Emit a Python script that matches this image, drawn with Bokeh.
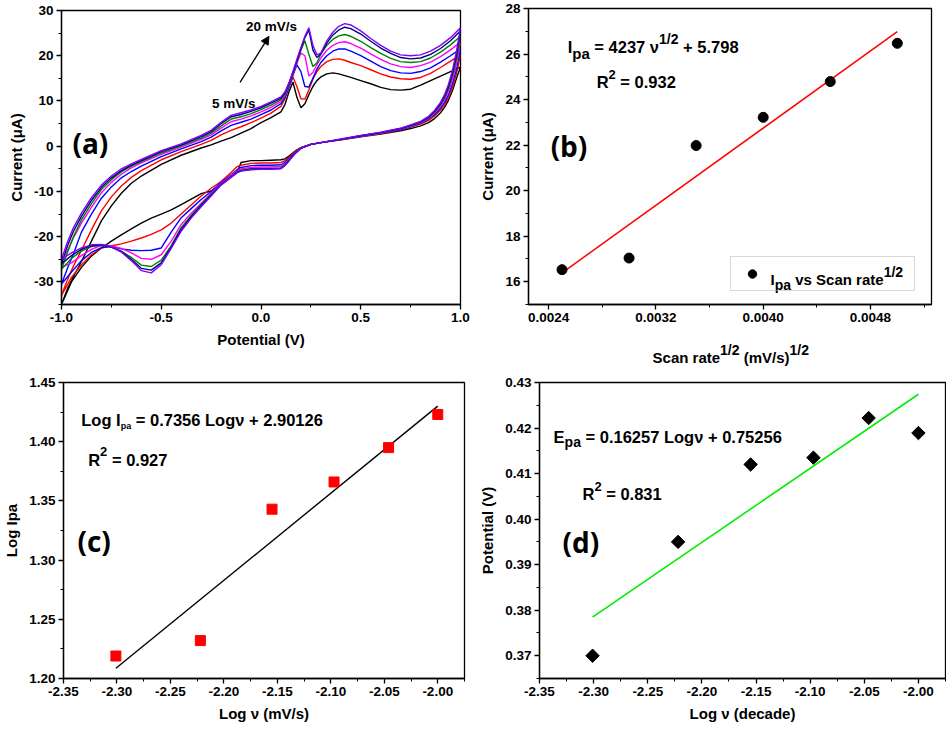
from bokeh.plotting import figure
from bokeh.models import (Range1d, FixedTicker, PrintfTickFormatter, Label, Arrow,
                          NormalHead, Legend, LegendItem)
from bokeh.layouts import column, row
from bokeh.embed import file_html
from bokeh.resources import INLINE

# ---------------- data : panel (a) cyclic voltammograms ----------------
E_UP = [-1.0, -0.97, -0.94, -0.9, -0.85, -0.8, -0.75, -0.7, -0.65, -0.6,
        -0.5, -0.4, -0.3, -0.25, -0.2, -0.15, -0.1, -0.05, 0.0, 0.05,
        0.1, 0.12, 0.14, 0.16, 0.18, 0.2, 0.22, 0.24, 0.26, 0.28,
        0.3, 0.33, 0.36, 0.39, 0.42, 0.45, 0.5, 0.55, 0.6, 0.65,
        0.7, 0.75, 0.8, 0.85, 0.9, 0.95, 1.0]
E_DN = [1.0, 0.98, 0.96, 0.94, 0.92, 0.9, 0.87, 0.84, 0.8, 0.75,
        0.7, 0.6, 0.5, 0.4, 0.3, 0.25, 0.2, 0.17, 0.14, 0.12,
        0.1, 0.05, 0.0, -0.05, -0.1, -0.12, -0.15, -0.2, -0.25, -0.3,
        -0.35, -0.4, -0.45, -0.5, -0.55, -0.6, -0.65, -0.7, -0.75, -0.8,
        -0.85, -0.9, -0.95, -1.0]

BLACK_UP = [-35.0, -31.5, -28.8, -25.5, -21.0, -16.5, -13.2, -10.4, -8.2, -6.6,
            -4.0, -2.0, -0.4, 0.3, 1.1, 1.9, 2.9, 3.9, 5.2, 6.3,
            7.6, 9.2, 12.0, 14.2, 10.8, 8.5, 9.4, 11.4, 13.2, 14.5,
            15.3, 16.0, 16.2, 16.0, 15.6, 15.2, 14.5, 13.8, 13.0, 12.5,
            12.4, 12.6, 13.5, 14.5, 15.5, 16.5, 17.5]
RED_UP = [-33.0, -29.5, -26.5, -23.0, -18.5, -14.3, -11.2, -8.8, -6.9, -5.4,
          -3.0, -1.2, 0.4, 1.3, 2.5, 3.5, 4.3, 5.2, 6.2, 7.3,
          8.8, 10.5, 13.0, 15.3, 13.2, 10.5, 10.4, 12.5, 14.8, 16.5,
          17.6, 18.7, 19.2, 19.3, 19.0, 18.5, 17.8, 16.9, 16.0, 15.3,
          14.9, 14.8, 15.2, 16.1, 17.4, 18.8, 20.2]
BLUE_UP = [-30.5, -27.0, -23.8, -19.0, -15.0, -11.5, -9.0, -7.0, -5.6, -4.4,
           -2.3, -0.6, 1.0, 2.0, 3.4, 4.6, 5.3, 6.0, 7.0, 8.0,
           9.4, 10.8, 13.0, 15.6, 18.0, 16.5, 13.2, 13.1, 15.0, 17.0,
           18.5, 20.0, 21.0, 21.5, 21.5, 21.0, 20.0, 18.8, 17.6, 16.7,
           16.2, 16.1, 16.5, 17.3, 18.6, 20.0, 21.5]
MAGENTA_UP = [-26.8, -23.0, -20.2, -17.0, -13.5, -10.3, -8.0, -6.2, -4.8, -3.7,
              -1.8, -0.2, 1.5, 2.5, 4.0, 5.4, 6.0, 6.7, 7.6, 8.6,
              9.9, 11.2, 13.4, 15.8, 18.3, 20.6, 20.0, 15.5, 16.3, 18.0,
              19.5, 21.2, 22.3, 22.9, 23.1, 22.7, 21.7, 20.4, 19.2, 18.2,
              17.6, 17.4, 17.8, 18.6, 19.8, 21.3, 23.0]
GREEN_UP = [-27.2, -23.5, -20.0, -16.3, -12.7, -9.6, -7.4, -5.7, -4.4, -3.4,
            -1.5, 0.1, 1.8, 2.9, 4.5, 6.0, 6.5, 7.2, 8.1, 9.1,
            10.3, 11.5, 13.6, 16.0, 18.6, 21.2, 23.3, 20.3, 17.6, 18.4,
            20.4, 22.3, 23.6, 24.4, 24.7, 24.3, 23.2, 21.8, 20.5, 19.4,
            18.7, 18.5, 18.7, 19.5, 20.8, 22.4, 24.3]
NAVY_UP = [-26.0, -22.0, -18.8, -15.5, -12.0, -9.1, -7.0, -5.4, -4.2, -3.2,
           -1.2, 0.3, 2.1, 3.2, 5.0, 6.5, 7.0, 7.7, 8.5, 9.5,
           10.6, 11.8, 13.8, 16.3, 18.9, 21.5, 24.0, 25.7, 21.3, 19.6,
           20.4, 22.8, 24.6, 25.7, 26.3, 26.0, 24.8, 23.2, 21.7, 20.5,
           19.6, 19.3, 19.5, 20.3, 21.6, 23.3, 25.5]
VIOLET_UP = [-25.0, -21.2, -18.0, -14.8, -11.4, -8.6, -6.6, -5.0, -3.9, -2.9,
             -1.0, 0.5, 2.4, 3.5, 5.3, 6.8, 7.4, 8.0, 8.8, 9.8,
             10.9, 12.0, 14.0, 16.5, 19.2, 21.8, 24.3, 26.2, 22.3, 20.2,
             20.6, 23.3, 25.2, 26.5, 27.1, 26.8, 25.5, 23.8, 22.3, 21.0,
             20.2, 20.0, 20.2, 21.0, 22.3, 24.0, 26.2]

BLACK_DN = [17.5, 15.0, 12.3, 10.2, 8.6, 7.4, 6.1, 5.2, 4.5, 3.9,
            3.4, 2.7, 2.1, 1.4, 0.8, 0.4, -0.3, -1.1, -2.2, -2.8,
            -3.0, -3.1, -3.2, -3.2, -3.6, -5.8, -6.8, -8.3, -9.9, -10.5,
            -11.7, -12.9, -14.1, -15.0, -15.9, -17.0, -18.3, -19.6, -21.0, -22.5,
            -24.3, -26.8, -30.0, -35.0]
RED_DN = [20.2, 16.0, 13.0, 10.8, 9.2, 8.0, 6.7, 5.7, 4.9, 4.2,
          3.6, 2.8, 2.2, 1.4, 0.8, 0.4, -0.3, -1.2, -2.5, -3.2,
          -3.6, -3.7, -3.7, -3.8, -4.2, -4.5, -5.8, -7.8, -9.3, -11.0,
          -13.0, -15.0, -17.0, -18.5, -19.5, -20.3, -21.0, -21.6, -22.0, -22.5,
          -24.0, -26.2, -29.0, -33.0]
BLUE_DN = [21.5, 17.0, 13.8, 11.4, 9.7, 8.4, 7.0, 6.0, 5.1, 4.3,
           3.7, 2.9, 2.2, 1.5, 0.8, 0.4, -0.4, -1.4, -2.8, -3.6,
           -4.1, -4.2, -4.2, -4.3, -4.7, -5.2, -6.3, -8.0, -10.0, -11.8,
           -13.8, -15.8, -19.0, -22.5, -23.0, -23.1, -23.0, -22.7, -22.2, -22.4,
           -23.5, -25.3, -27.8, -30.5]
MAGENTA_DN = [23.0, 18.3, 14.8, 12.2, 10.3, 8.9, 7.3, 6.2, 5.2, 4.4,
              3.8, 2.9, 2.2, 1.5, 0.8, 0.4, -0.4, -1.5, -3.0, -3.9,
              -4.5, -4.6, -4.6, -4.7, -5.0, -5.5, -6.5, -8.2, -10.4, -12.6,
              -14.8, -17.3, -21.0, -24.0, -25.0, -24.8, -23.6, -22.6, -22.0, -21.9,
              -22.8, -24.2, -25.8, -26.8]
GREEN_DN = [24.3, 19.2, 15.5, 12.7, 10.7, 9.2, 7.5, 6.3, 5.3, 4.5,
            3.9, 3.0, 2.3, 1.5, 0.8, 0.4, -0.4, -1.5, -3.1, -4.1,
            -4.8, -4.9, -4.9, -5.0, -5.3, -5.7, -6.7, -8.4, -10.6, -12.9,
            -15.3, -18.0, -22.0, -25.2, -26.6, -26.3, -24.6, -23.2, -22.3, -21.9,
            -22.2, -23.2, -24.8, -27.2]
NAVY_DN = [25.5, 20.2, 16.2, 13.2, 11.0, 9.4, 7.7, 6.4, 5.4, 4.6,
           3.9, 3.0, 2.3, 1.5, 0.8, 0.4, -0.5, -1.6, -3.2, -4.2,
           -4.9, -5.0, -5.0, -5.1, -5.4, -5.8, -6.8, -8.5, -10.8, -13.1,
           -15.6, -18.4, -22.3, -25.8, -27.4, -27.0, -25.0, -23.3, -22.3, -21.8,
           -22.0, -22.8, -24.2, -26.0]
VIOLET_DN = [26.2, 21.0, 16.8, 13.7, 11.4, 9.7, 7.9, 6.6, 5.5, 4.7,
             4.0, 3.1, 2.4, 1.6, 0.8, 0.4, -0.5, -1.7, -3.3, -4.3,
             -5.0, -5.1, -5.1, -5.2, -5.5, -5.9, -6.9, -8.6, -11.0, -13.4,
             -15.9, -18.8, -22.6, -26.2, -28.0, -27.5, -25.3, -23.4, -22.2, -21.7,
             -21.8, -22.5, -23.6, -25.0]

CV_COLORS = ["#000000", "#ff0000", "#0000ff", "#ff00ff", "#008000", "#000080", "#8000ff"]
CV_UP = [BLACK_UP, RED_UP, BLUE_UP, MAGENTA_UP, GREEN_UP, NAVY_UP, VIOLET_UP]
CV_DN = [BLACK_DN, RED_DN, BLUE_DN, MAGENTA_DN, GREEN_DN, NAVY_DN, VIOLET_DN]

# ---------------- data : panels (b)-(d) ----------------
SQRT_RATE = [0.0025, 0.0030, 0.0035, 0.0040, 0.0045, 0.0050]
IPA = [16.53, 17.04, 21.98, 23.22, 24.79, 26.47]
LOG_RATE = [-2.301, -2.222, -2.155, -2.097, -2.046, -2.000]
LOG_IPA = [1.219, 1.232, 1.343, 1.366, 1.395, 1.423]
EPA = [0.370, 0.395, 0.412, 0.4135, 0.4222, 0.4189]

FIT_B = (4237.0, 5.798)
FIT_C = (0.7356, 2.90126)
FIT_D = (0.16257, 0.75256)

# ---------------- ticks ----------------
A_XT = [-1.0, -0.5, 0.0, 0.5, 1.0]
A_XM = [-0.75, -0.25, 0.25, 0.75]
A_YT = [-30, -20, -10, 0, 10, 20, 30]
A_YM = [-35, -25, -15, -5, 5, 15, 25]
B_XT = [0.0024, 0.0032, 0.0040, 0.0048]
B_XM = [0.0028, 0.0036, 0.0044, 0.0052]
B_YT = [16, 18, 20, 22, 24, 26, 28]
B_YM = [15, 17, 19, 21, 23, 25, 27]
LOG_XT = [-2.35, -2.30, -2.25, -2.20, -2.15, -2.10, -2.05, -2.00]
LOG_XM = [-2.325, -2.275, -2.225, -2.175, -2.125, -2.075, -2.025, -1.975]
C_YT = [1.20, 1.25, 1.30, 1.35, 1.40, 1.45]
C_YM = [1.225, 1.275, 1.325, 1.375, 1.425]
D_YT = [0.37, 0.38, 0.39, 0.40, 0.41, 0.42, 0.43]
D_YM = [0.365, 0.375, 0.385, 0.395, 0.405, 0.415, 0.425]

FONT = "Liberation Sans"
WIDTHS = {' ': 278, '(': 333, ')': 333, '+': 584, '.': 278, '/': 278, '=': 584, '-': 333,
          'A': 722, 'C': 722, 'E': 667, 'I': 278, 'L': 611, 'R': 722, 'S': 667, 'V': 667,
          'a': 556, 'c': 556, 'd': 611, 'e': 556, 'g': 611, 'i': 278, 'l': 278, 'm': 889,
          'n': 611, 'o': 611, 'p': 611, 'r': 389, 's': 556, 't': 333, 'v': 556, 'ν': 556}


def tw(text, size):
    return sum(WIDTHS.get(c, 556) for c in text) * size / 1000.0


def rich(p, x, y, segs):
    off = 0.0
    for text, size, dy in segs:
        lead = len(text) - len(text.lstrip(' '))
        shown = text.strip(' ')
        if shown:
            p.add_layout(Label(x=x, y=y, x_offset=off + lead * 278 * size / 1000.0, y_offset=dy,
                               text=shown, text_font=FONT, text_font_size=f"{size}px",
                               text_font_style="bold", text_color="black",
                               text_baseline="alphabetic", text_align="left", level="overlay"))
        off += tw(text, size)


def make_fig(w, h, xr, yr, borders, xt, xm, yt, ym, xfmt, yfmt, xlabel, ylabel):
    bl, br, bt, bb = borders
    p = figure(width=w, height=h, x_range=Range1d(*xr), y_range=Range1d(*yr),
               output_backend="svg", toolbar_location=None,
               min_border_left=bl, min_border_right=br, min_border_top=bt, min_border_bottom=bb)
    p.xgrid.grid_line_color = None
    p.ygrid.grid_line_color = None
    p.outline_line_color = "black"
    p.outline_line_width = 1.3
    p.outline_line_alpha = 1.0
    p.background_fill_color = "white"
    p.border_fill_color = "white"
    p.xaxis.ticker = FixedTicker(ticks=xt, minor_ticks=xm)
    p.yaxis.ticker = FixedTicker(ticks=yt, minor_ticks=ym)
    p.xaxis.formatter = PrintfTickFormatter(format=xfmt)
    p.yaxis.formatter = PrintfTickFormatter(format=yfmt)
    for ax in (p.xaxis[0], p.yaxis[0]):
        ax.axis_line_width = 1.3
        ax.major_tick_line_width = 1.3
        ax.minor_tick_line_width = 1.0
        ax.major_tick_in = 0
        ax.major_tick_out = 5
        ax.minor_tick_in = 0
        ax.minor_tick_out = 3
        ax.major_label_standoff = 3
        ax.major_label_text_font = FONT
        ax.major_label_text_font_style = "bold"
        ax.major_label_text_font_size = "13.5px"
        ax.major_label_text_color = "black"
        ax.axis_label_text_font = FONT
        ax.axis_label_text_font_style = "bold"
        ax.axis_label_text_font_size = "15px"
        ax.axis_label_text_color = "black"
        ax.axis_label_standoff = 6
    p.xaxis.axis_label = xlabel
    p.yaxis.axis_label = ylabel
    return p


def panel_tag(p, x, y, text):
    p.add_layout(Label(x=x, y=y, text=text, text_font="Open Sans", text_font_size="28px",
                       text_font_style="bold", text_color="black", text_baseline="alphabetic"))


# ---------------- panel (a) ----------------
pa = make_fig(470, 366, (-1.0, 1.0), (-35, 30), (61, 10, 10, 62),
              A_XT, A_XM, A_YT, A_YM, "%.1f", "%d", "Potential (V)", "Current (μA)")
for col, up, dn in zip(CV_COLORS, CV_UP, CV_DN):
    pa.line(E_UP + E_DN, up + dn, line_color=col, line_width=1.4)
pa.add_layout(Arrow(end=NormalHead(size=8, fill_color="black", line_color="black"),
                    x_start=-0.105, y_start=14.1, x_end=0.040, y_end=24.3,
                    line_color="black", line_width=1.3))
pa.add_layout(Label(x=-0.075, y=26.5, text="20 mV/s", text_font=FONT, text_font_size="13.5px",
                    text_font_style="bold", text_color="black", text_baseline="alphabetic"))
pa.add_layout(Label(x=-0.246, y=9.4, text="5 mV/s", text_font=FONT, text_font_size="13.5px",
                    text_font_style="bold", text_color="black", text_baseline="alphabetic"))
panel_tag(pa, -0.945, 0.6, "(a)")

# ---------------- panel (b) ----------------
pb = make_fig(476, 328, (0.00225, 0.005255), (15, 28), (58, 15, 8, 24),
              B_XT, B_XM, B_YT, B_YM, "%.4f", "%d", None, "Current (μA)")
xb = [SQRT_RATE[0], SQRT_RATE[-1]]
pb.line(xb, [FIT_B[0] * v + FIT_B[1] for v in xb], line_color="#ff0000", line_width=1.5)
rb = pb.scatter(SQRT_RATE, IPA, marker="circle", size=10, fill_color="black", line_color="black")
leg = Legend(items=[LegendItem(label=" ", renderers=[rb])], location=(202, 13),
             padding=6, spacing=0, margin=0, glyph_width=30, glyph_height=21,
             label_standoff=0, label_width=141, label_height=21,
             border_line_color="#b4b4b4", border_line_width=1,
             background_fill_color="white", background_fill_alpha=0.0)
pb.add_layout(leg)
rich(pb, 0.002542, 26.30, [("I", 16.5, 0), ("pa", 15, -6), (" = 4237 ν", 16.5, 0),
                           ("1/2", 14, 8), (" + 5.798", 16.5, 0)])
rich(pb, 0.002758, 24.76, [("R", 16.5, 0), ("2", 13, 8), (" = 0.932", 16.5, 0)])
rich(pb, 0.004055, 16.08, [("I", 15, 0), ("pa", 14, -5), (" vs Scan rate", 15, 0), ("1/2", 14, 8)])
panel_tag(pb, 0.002415, 21.98, "(b)")

# x-axis title of (b), drawn as rich text in a strip under the panel
pbl = figure(width=476, height=38, x_range=pb.x_range, y_range=Range1d(0, 1),
             x_axis_type=None, y_axis_type=None, output_backend="svg", toolbar_location=None,
             min_border_left=58, min_border_right=15, min_border_top=0, min_border_bottom=0)
pbl.outline_line_color = None
pbl.xgrid.grid_line_color = None
pbl.ygrid.grid_line_color = None
pbl.background_fill_color = "white"
pbl.border_fill_color = "white"
rich(pbl, 0.003175, 0.25, [("Scan rate", 15, 0), ("1/2", 14, 7), (" (mV/s)", 15, 0), ("1/2", 14, 7)])

# ---------------- panel (c) ----------------
pc = make_fig(470, 366, (-2.35, -1.975), (1.20, 1.45), (58, 6, 16, 51),
              LOG_XT, LOG_XM, C_YT, C_YM, "%.2f", "%.2f", "Log ν (mV/s)", "Log Ipa")
xc = [LOG_RATE[0], LOG_RATE[-1]]
pc.line(xc, [FIT_C[0] * v + FIT_C[1] for v in xc], line_color="black", line_width=1.4)
pc.scatter(LOG_RATE, LOG_IPA, marker="square", size=10, fill_color="#ff0000", line_color="#ff0000")
rich(pc, -2.3334, 1.4182, [("Log I", 16.5, 0), ("pa", 9, -6), (" = 0.7356 Logν + 2.90126", 16.5, 0)])
rich(pc, -2.3269, 1.3848, [("R", 16.5, 0), ("2", 13, 8), (" = 0.927", 16.5, 0)])
panel_tag(pc, -2.337, 1.3165, "(c)")

# ---------------- panel (d) ----------------
pd_ = make_fig(476, 366, (-2.35, -1.975), (0.365, 0.43), (69, 1, 15, 54),
               LOG_XT, LOG_XM, D_YT, D_YM, "%.2f", "%.2f", "Log ν (decade)", "Potential (V)")
xd = [LOG_RATE[0], LOG_RATE[-1]]
pd_.line(xd, [FIT_D[0] * v + FIT_D[1] for v in xd], line_color="#00ee00", line_width=1.6)
pd_.scatter(LOG_RATE, EPA, marker="square", angle=0.7853982, size=9.5,
            fill_color="black", line_color="black")
rich(pd_, -2.337, 0.418, [("E", 16.5, 0), ("pa", 14, -5), (" = 0.16257 Logν + 0.75256", 16.5, 0)])
rich(pd_, -2.3103, 0.40548, [("R", 16.5, 0), ("2", 13, 8), (" = 0.831", 16.5, 0)])
panel_tag(pd_, -2.3287, 0.39491, "(d)")

layout = column(row(pa, column(pb, pbl)), row(pc, pd_))
open("out.html", "w").write(file_html(layout, INLINE))
